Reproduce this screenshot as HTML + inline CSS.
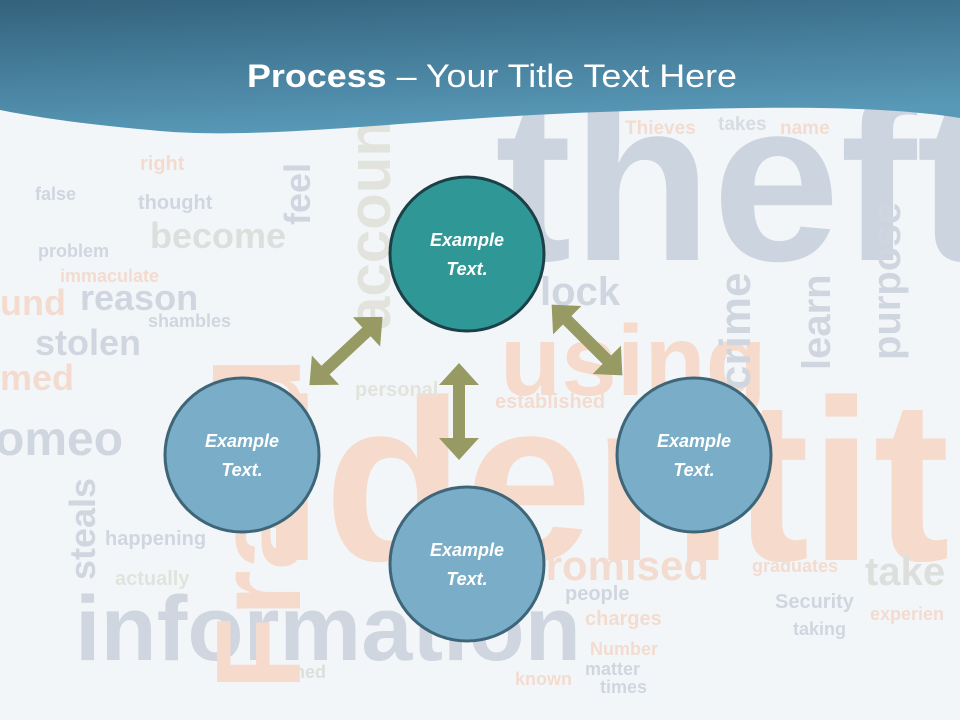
<!DOCTYPE html>
<html><head><meta charset="utf-8"><style>
html,body{margin:0;padding:0;width:960px;height:720px;overflow:hidden;background:#f3f6f9}
svg{display:block}
</style></head><body>
<svg width="960" height="720" viewBox="0 0 960 720" xmlns="http://www.w3.org/2000/svg">
<defs>
<linearGradient id="hd" x1="0" y1="0" x2="0.3" y2="1">
<stop offset="0" stop-color="#33627c"/><stop offset="1" stop-color="#5899b8"/>
</linearGradient>
</defs>
<rect width="960" height="720" fill="#f3f6f9"/>
<g font-family="Liberation Sans, sans-serif" font-weight="bold" opacity="0.85">
<text x="495" y="260" font-size="230" fill="#c6cfdb">theft</text>
<text x="260" y="560" font-size="230" fill="#f7d6c4">identit</text>
<text x="75" y="660" font-size="92" fill="#cbd1dc">information</text>
<text x="500" y="395" font-size="100" fill="#f7d6c4">using</text>
<text x="520" y="580" font-size="42" fill="#f3d8c8">promised</text>
<text x="80" y="310" font-size="36" fill="#cbd1dc">reason</text>
<text x="150" y="248" font-size="36" fill="#d9dbd6">become</text>
<text x="35" y="355" font-size="36" fill="#cbd1dc">stolen</text>
<text x="0" y="390" font-size="36" fill="#f3d8c8">med</text>
<text x="-5" y="455" font-size="48" fill="#cbd1dc">omeo</text>
<text x="0" y="315" font-size="36" fill="#f3d8c8">und</text>
<text x="540" y="305" font-size="40" fill="#cbd1dc">lock</text>
<text x="865" y="585" font-size="40" fill="#d9dbd6">take</text>
<text x="625" y="134" font-size="19" fill="#f3d8c8">Thieves</text>
<text x="718" y="130" font-size="19" fill="#d3d8e0">takes</text>
<text x="780" y="134" font-size="19" fill="#f3d8c8">name</text>
<text x="105" y="545" font-size="20" fill="#cbd1dc">happening</text>
<text x="115" y="585" font-size="20" fill="#e0e0d8">actually</text>
<text x="565" y="600" font-size="20" fill="#cbd1dc">people</text>
<text x="585" y="625" font-size="20" fill="#f3d8c8">charges</text>
<text x="775" y="608" font-size="20" fill="#cbd1dc">Security</text>
<text x="495" y="408" font-size="20" fill="#f3d8c8">established</text>
<text x="355" y="396" font-size="20" fill="#e0e0d8">personal</text>
<text x="138" y="209" font-size="20" fill="#cbd1dc">thought</text>
<text x="140" y="170" font-size="20" fill="#f3d8c8">right</text>
<text x="60" y="282" font-size="18" fill="#f3d8c8">immaculate</text>
<text x="148" y="327" font-size="18" fill="#cbd1dc">shambles</text>
<text x="38" y="257" font-size="18" fill="#cbd1dc">problem</text>
<text x="35" y="200" font-size="18" fill="#cbd1dc">false</text>
<text x="270" y="678" font-size="18" fill="#d9dbd6">turned</text>
<text x="752" y="572" font-size="18" fill="#f3d8c8">graduates</text>
<text x="870" y="620" font-size="18" fill="#f3d8c8">experien</text>
<text x="590" y="655" font-size="18" fill="#f3d8c8">Number</text>
<text x="585" y="675" font-size="18" fill="#cbd1dc">matter</text>
<text x="793" y="635" font-size="18" fill="#cbd1dc">taking</text>
<text x="600" y="693" font-size="18" fill="#cbd1dc">times</text>
<text x="515" y="685" font-size="18" fill="#f3d8c8">known</text>
<text transform="translate(300,690) rotate(-90)" font-size="120" fill="#f7d6c4">Fraud</text>
<text transform="translate(390,330) rotate(-90)" font-size="60" fill="#e0e0d8">accoun</text>
<text transform="translate(900,360) rotate(-90)" font-size="40" fill="#cbd1dc">purpose</text>
<text transform="translate(750,390) rotate(-90)" font-size="44" fill="#cbd1dc">crime</text>
<text transform="translate(830,370) rotate(-90)" font-size="40" fill="#cbd1dc">learn</text>
<text transform="translate(95,580) rotate(-90)" font-size="36" fill="#cbd1dc">steals</text>
<text transform="translate(310,225) rotate(-90)" font-size="36" fill="#cbd1dc">feel</text>
</g>
<path d="M0 0 H960 V118 C880 105 760 106 600 112 C420 118 260 142 150 130 C80 124 30 116 0 110 Z" fill="url(#hd)"/>
<text x="492" y="87" text-anchor="middle" font-family="Liberation Sans, sans-serif" font-size="32" fill="#fff" textLength="490" lengthAdjust="spacingAndGlyphs"><tspan font-weight="bold">Process</tspan> – Your Title Text Here</text>
<g fill="#979a62">
<path d="M459 363 L479 385 L465 385 L465 438 L479 438 L459 460 L439 438 L453 438 L453 385 L439 385 Z"/>
<g transform="translate(346,351) rotate(-43)"><path d="M-50 0 L-28 -20 L-28 -6 L28 -6 L28 -20 L50 0 L28 20 L28 6 L-28 6 L-28 20 Z"/></g>
<g transform="translate(587,340) rotate(45)"><path d="M-50 0 L-28 -20 L-28 -6 L28 -6 L28 -20 L50 0 L28 20 L28 6 L-28 6 L-28 20 Z"/></g>
</g>
<g stroke-width="3" font-family="Liberation Sans, sans-serif" font-style="italic" font-weight="bold" font-size="18" fill="#fff" text-anchor="middle">
<circle cx="467" cy="254" r="77" fill="#2f9896" stroke="#1c4048"/>
<circle cx="242" cy="455" r="77" fill="#79adc8" stroke="#3e6678"/>
<circle cx="694" cy="455" r="77" fill="#79adc8" stroke="#3e6678"/>
<circle cx="467" cy="564" r="77" fill="#79adc8" stroke="#3e6678"/>
<g stroke="none">
<text x="467" y="246">Example</text><text x="467" y="275">Text.</text>
<text x="242" y="447">Example</text><text x="242" y="476">Text.</text>
<text x="694" y="447">Example</text><text x="694" y="476">Text.</text>
<text x="467" y="556">Example</text><text x="467" y="585">Text.</text>
</g>
</g>
</svg>
</body></html>
